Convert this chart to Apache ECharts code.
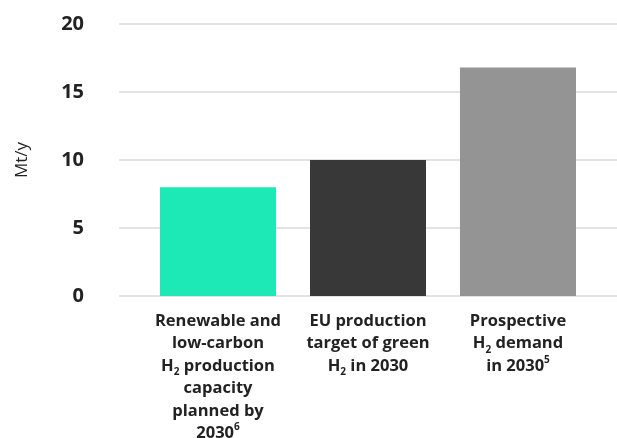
<!DOCTYPE html>
<html>
<head>
<meta charset="utf-8">
<script src="https://cdn.jsdelivr.net/npm/echarts@6/dist/echarts.min.js"></script>
<style>
	html, body { margin: 0; padding: 0; background: #fff; }
	#chart { width: 617px; height: 438px; }
</style>
</head>
<body>
<div id="chart"></div>
<script>
// categories (with rich-text markup for H2 subscripts / footnote superscripts)
var categories = [
	"Renewable and\nlow-carbon\nH{sub|2} production\ncapacity\nplanned by\n2030{sup|6}",
	"EU production\ntarget of green\nH{sub|2} in 2030",
	"Prospective\nH{sub|2} demand\nin 2030{sup|5}"
];
var values = [8, 10, 16.8];
var barColors = ["#1de9b6", "#383838", "#949494"];
var yTicks = [0, 5, 10, 15, 20];

var chart = echarts.init(document.getElementById("chart"));
var font = "'Open Sans', sans-serif";

chart.setOption({
	animation: false,
	grid: [
		// wide grid only for the horizontal gridlines + y labels
		{ left: 119, right: 0, top: 24, bottom: 142, outerBoundsMode: "none" },
		// bars
		{ left: 143, right: 24, top: 24, bottom: 142, outerBoundsMode: "none" }
	],
	xAxis: [
		{ gridIndex: 0, type: "value", show: false },
		{
			gridIndex: 1,
			type: "category",
			data: categories,
			axisLine: { show: false },
			axisTick: { show: false },
			axisLabel: {
				interval: 0,
				margin: 14,
				color: "#222",
				fontFamily: font,
				fontWeight: "bold",
				fontSize: 16.5,
				lineHeight: 22.4,
				rich: {
					sub: { fontSize: 10, fontWeight: "bold", color: "#222", fontFamily: font, verticalAlign: "bottom", lineHeight: 15 },
					sup: { fontSize: 10, fontWeight: "bold", color: "#222", fontFamily: font, verticalAlign: "top", lineHeight: 20 }
				}
			}
		}
	],
	yAxis: [
		{
			gridIndex: 0,
			type: "value",
			min: yTicks[0],
			max: yTicks[yTicks.length - 1],
			interval: 5,
			name: "Mt/y",
			nameLocation: "middle",
			nameGap: 88,
			nameTextStyle: { color: "#222", fontFamily: font, fontSize: 17 },
			axisLine: { show: false },
			axisTick: { show: false },
			axisLabel: {
				margin: 35,
				color: "#222",
				fontFamily: font,
				fontWeight: "bold",
				fontSize: 20,
				padding: [0, 0, 10, 0]
			},
			splitLine: { lineStyle: { color: "#e3e3e3", width: 2 } }
		},
		{
			gridIndex: 1,
			type: "value",
			min: yTicks[0],
			max: yTicks[yTicks.length - 1],
			interval: 5,
			show: false
		}
	],
	series: [
		{
			type: "bar",
			xAxisIndex: 1,
			yAxisIndex: 1,
			barWidth: 116,
			data: values.map(function (v, i) {
				return { value: v, itemStyle: { color: barColors[i] } };
			})
		}
	]
});
</script>
</body>
</html>
